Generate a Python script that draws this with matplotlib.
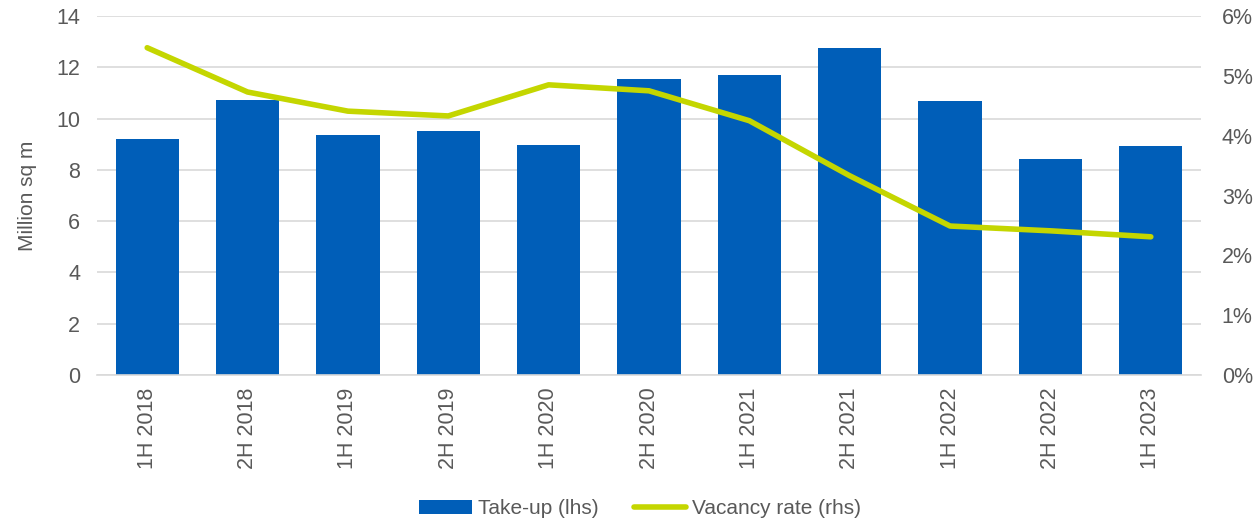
import matplotlib.pyplot as plt
from matplotlib.ticker import FuncFormatter

plt.rcParams['font.family'] = ['Liberation Sans', 'DejaVu Sans']

periods = ["1H 2018", "2H 2018", "1H 2019", "2H 2019", "1H 2020", "2H 2020",
           "1H 2021", "2H 2021", "1H 2022", "2H 2022", "1H 2023"]
take_up = [9.2, 10.72, 9.36, 9.52, 8.97, 11.54, 11.70, 12.75, 10.69, 8.42, 8.93]
vacancy = [5.47, 4.73, 4.41, 4.33, 4.85, 4.75, 4.25, 3.33, 2.49, 2.41, 2.31]

grey = '#595959'
fig = plt.figure(figsize=(12.58, 5.2), dpi=100)
ax = fig.add_axes([0.0771, 0.2788, 0.8776, 0.6904])
ax2 = ax.twinx()

x = list(range(len(periods)))
bars = ax.bar(x, take_up, width=0.63, color='#005EB8', zorder=2, label='Take-up (lhs)')
line, = ax2.plot(x, vacancy, color='#C4D600', lw=4, solid_capstyle='round',
                 label='Vacancy rate (rhs)', zorder=3)

ax.set_xlim(-0.5, len(periods) - 0.5)
ax.set_ylim(0, 14)
ax.set_yticks(range(0, 15, 2))
ax2.set_ylim(0, 6)
ax2.set_yticks(range(0, 7))
ax2.yaxis.set_major_formatter(FuncFormatter(lambda v, p: f"{int(v)}%"))

ax.grid(axis='y', color='#D9D9D9', lw=1.2, zorder=0)
ax.set_axisbelow(True)
for a in (ax, ax2):
    for s in a.spines.values():
        s.set_visible(False)
    a.tick_params(length=0, labelsize=15.5, colors=grey)
ax.spines['bottom'].set_visible(True)
ax.spines['bottom'].set_color('#D9D9D9')
ax.spines['bottom'].set_linewidth(1.2)

ax.set_xticks(x)
ax.set_xticklabels(periods, rotation=90)
ax.tick_params(axis='x', pad=9, labelsize=15.5)
ax.tick_params(axis='y', pad=12)
ax2.tick_params(axis='y', pad=15)
ax.set_ylabel("Million sq m", fontsize=15, color=grey, labelpad=14)

fig.legend(handles=[bars, line], loc='lower center', ncol=2, frameon=False,
           fontsize=15, labelcolor=grey, bbox_to_anchor=(0.509, -0.033),
           handlelength=2.5, columnspacing=1.7, handletextpad=0.3)

fig.savefig("out.png", dpi=100)
